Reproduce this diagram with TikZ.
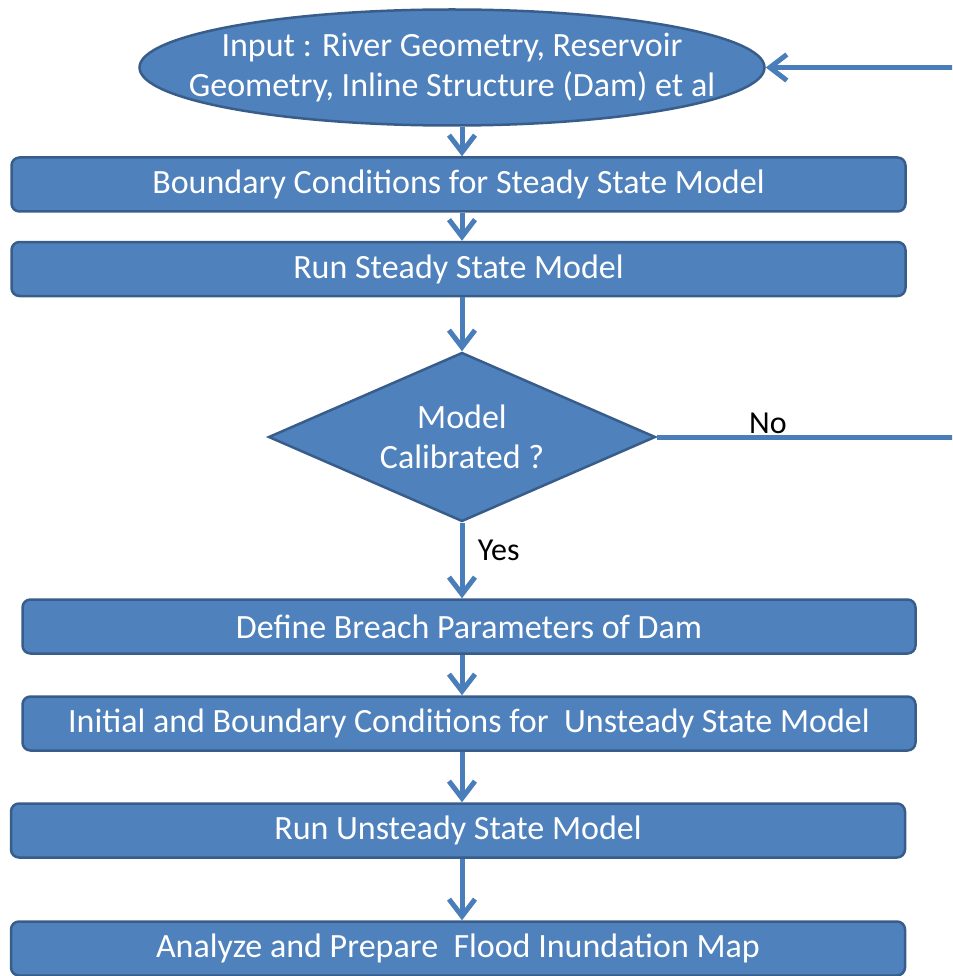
\documentclass[tikz,border=0pt]{standalone}
\usepackage{fontspec}
\setmainfont{Carlito}
\usetikzlibrary{shapes.geometric,arrows.meta}
\definecolor{bleu}{HTML}{4F81BD}
\definecolor{bord}{HTML}{385D8A}
\definecolor{trait}{HTML}{4A7EBB}

\begin{document}
\begin{tikzpicture}[x=1pt,y=-1pt,
  boite/.style={draw=bord,fill=bleu,line width=2.5pt,rounded corners=8pt,text=white,
    minimum height=54pt,inner sep=0pt,font=\fontsize{34}{40}\selectfont},
  fleche/.style={draw=trait,line width=5pt,-{Straight Barb[length=17pt,width=26pt]}},
  legende/.style={font=\fontsize{32}{38}\selectfont,text=black}]
\useasboundingbox (0,0) rectangle (952,976);
\clip (0,0) rectangle (952,976);

% les cases
\node[boite,ellipse,rounded corners=0pt,inner xsep=-45pt,minimum width=625pt,minimum height=116pt,align=center] (input) at (452,67.5)
  {Input : River Geometry, Reservoir\\Geometry, Inline Structure (Dam) et al};
\node[boite,minimum width=894pt] (bcsteady) at (458.5,184.5) {Boundary Conditions for Steady State Model};
\node[boite,minimum width=894pt] (runsteady) at (458.5,269) {Run Steady State Model};
\node[boite,diamond,aspect=2.3,rounded corners=0pt,minimum width=387pt,minimum height=169pt,align=center] (calib) at (462,437)
  {Model\\Calibrated ?};
\node[boite,minimum width=893pt] (breach) at (469,626.5) {Define Breach Parameters of Dam};
\node[boite,minimum width=893pt] (icunsteady) at (469,723.5) {Initial and Boundary Conditions for\ \ Unsteady State Model};
\node[boite,minimum width=894pt] (rununsteady) at (458,830.5) {Run Unsteady State Model};
\node[boite,minimum width=894pt] (floodmap) at (458,948.5) {Analyze and Prepare\ \ Flood Inundation Map};

% les fleches
\draw[fleche] (input.south -| calib) -- (bcsteady.north -| calib);
\draw[fleche] (bcsteady.south -| calib) -- (runsteady.north -| calib);
\draw[fleche] (runsteady.south -| calib) -- (calib.north);
\draw[fleche] (calib.south) -- node[legende,right=10pt,pos=0.37] (yes) {Yes} (breach.north -| calib);
\draw[fleche] (breach.south -| calib) -- (icunsteady.north -| calib);
\draw[fleche] (icunsteady.south -| calib) -- (rununsteady.north -| calib);
\draw[fleche] (rununsteady.south -| calib) -- (floodmap.north -| calib);

% retour
\coordinate (coin) at (990,437);
\draw[fleche] (calib.east) -- (coin) |- (input.east);
\node[legende,anchor=base] (no) at (768,433) {No};
\end{tikzpicture}
\end{document}
